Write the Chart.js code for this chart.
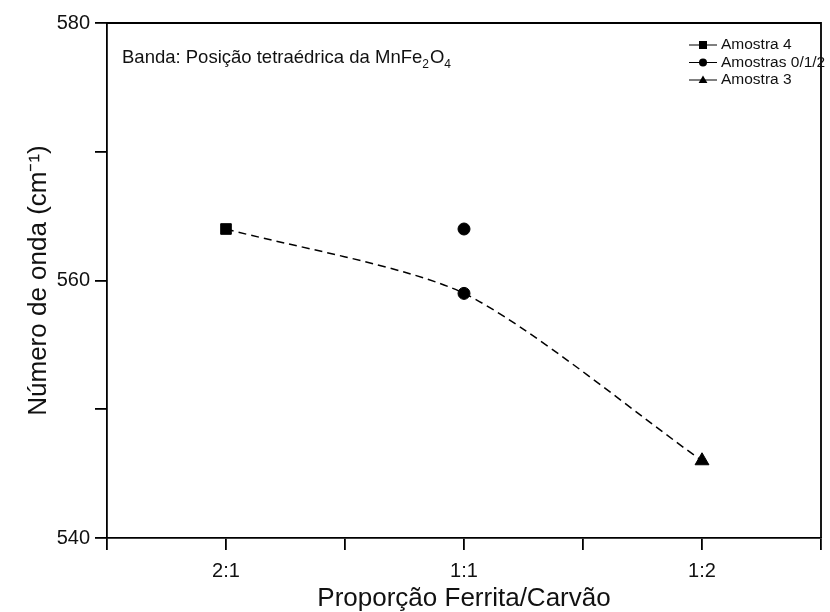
<!DOCTYPE html>
<html>
<head>
<meta charset="utf-8">
<script src="https://cdn.jsdelivr.net/npm/chart.js@4.4.1/dist/chart.umd.min.js"></script>
<style>
  html, body { margin: 0; padding: 0; background: #fff; overflow: hidden; }
  #wrap { width: 830px; height: 612px; }
</style>
</head>
<body>
<div id="wrap"><canvas id="chart"></canvas></div>
<script>
// categories on the x axis (positions 1, 2, 3)
const tickLabels = ['2:1', '1:1', '1:2'];

// series values
const amostra4X = [1];
const amostra4Y = [564];
const amostras012X = [2, 2];
const amostras012Y = [564, 559];
const amostra3X = [3];
const amostra3Y = [546];
const trendX = [1, 2, 3];
const trendY = [564, 559, 546];

const FONT = '"Liberation Sans", Arial, sans-serif';

const toPoints = (xs, ys) => xs.map((x, i) => ({ x: x, y: ys[i] }));

const legendItems = [
    { label: 'Amostra 4', style: 'rect' },
    { label: 'Amostras 0/1/2', style: 'circle' },
    { label: 'Amostra 3', style: 'triangle' }
];

function drawMarker(ctx, style, x, y, r) {
    ctx.beginPath();
    if (style === 'rect') {
        ctx.rect(x - r, y - r, 2 * r, 2 * r);
    } else if (style === 'circle') {
        ctx.arc(x, y, r, 0, Math.PI * 2);
    } else {
        ctx.moveTo(x, y - r * 1.15);
        ctx.lineTo(x + r * 1.1, y + r * 0.75);
        ctx.lineTo(x - r * 1.1, y + r * 0.75);
        ctx.closePath();
    }
    ctx.fill();
}

// frame, annotation text and legend
const decorations = {
    id: 'decorations',
    afterDraw(chart) {
        const { ctx, chartArea: a } = chart;
        ctx.save();
        ctx.strokeStyle = '#000';
        ctx.lineWidth = 1.8;
        ctx.beginPath();
        ctx.moveTo(a.left, a.top);
        ctx.lineTo(a.right, a.top);
        ctx.lineTo(a.right, a.bottom);
        ctx.stroke();

        // annotation with subscripts
        ctx.fillStyle = '#111';
        ctx.textBaseline = 'alphabetic';
        let x = a.left + 15;
        const y = a.top + 40;
        const parts = [
            ['Banda: Posição tetraédrica da MnFe', 0],
            ['2', 1], ['O', 0], ['4', 1]
        ];
        parts.forEach(([t, sub]) => {
            ctx.font = (sub ? '12px ' : '18.5px ') + FONT;
            ctx.fillText(t, x, y + (sub ? 5 : 0));
            x += ctx.measureText(t).width + (sub ? 1 : 0);
        });

        // legend
        ctx.font = '15.5px ' + FONT;
        ctx.textBaseline = 'middle';
        const lx = a.right - 132;
        legendItems.forEach((item, i) => {
            const ly = a.top + 22 + i * 17.5;
            ctx.strokeStyle = '#000';
            ctx.lineWidth = 1;
            ctx.beginPath();
            ctx.moveTo(lx, ly);
            ctx.lineTo(lx + 28, ly);
            ctx.stroke();
            ctx.fillStyle = '#000';
            drawMarker(ctx, item.style, lx + 14, ly, 4);
            ctx.fillStyle = '#111';
            ctx.fillText(item.label, lx + 32, ly);
        });
        ctx.restore();
    }
};

new Chart(document.getElementById('chart'), {
    type: 'scatter',
    data: {
        datasets: [
            {
                label: 'trend',
                data: toPoints(trendX, trendY),
                showLine: true,
                borderColor: '#000',
                borderWidth: 1.5,
                borderDash: [8, 5],
                tension: 0.25,
                pointRadius: 0
            },
            {
                label: 'Amostra 4',
                data: toPoints(amostra4X, amostra4Y),
                pointStyle: 'rect',
                pointRadius: 7.5,
                backgroundColor: '#000',
                borderColor: '#000'
            },
            {
                label: 'Amostras 0/1/2',
                data: toPoints(amostras012X, amostras012Y),
                pointStyle: 'circle',
                pointRadius: 6,
                backgroundColor: '#000',
                borderColor: '#000'
            },
            {
                label: 'Amostra 3',
                data: toPoints(amostra3X, amostra3Y),
                pointStyle: 'triangle',
                pointRadius: 8,
                backgroundColor: '#000',
                borderColor: '#000'
            }
        ]
    },
    options: {
        responsive: true,
        maintainAspectRatio: false,
        animation: false,
        layout: { padding: { top: 23, right: 1, left: 0, bottom: 0 } },
        plugins: {
            legend: { display: false },
            tooltip: { enabled: false }
        },
        scales: {
            x: {
                type: 'linear',
                min: 0.5,
                max: 3.5,
                afterFit: s => { s.height = 74; },
                ticks: {
                    stepSize: 0.5,
                    autoSkip: false,
                    maxRotation: 0,
                    padding: 9,
                    color: '#111',
                    font: { family: FONT, size: 20 },
                    callback: v => Number.isInteger(v) ? (tickLabels[v - 1] || '') : ''
                },
                grid: { drawOnChartArea: false, drawTicks: true, tickLength: 12, color: '#000', lineWidth: 1.8 },
                border: { display: true, color: '#000', width: 1.8 },
                title: {
                    display: true,
                    text: 'Proporção Ferrita/Carvão',
                    color: '#111',
                    font: { family: FONT, size: 26 },
                    padding: { top: 0, bottom: -2 }
                }
            },
            y: {
                min: 540,
                max: 580,
                afterFit: s => { s.width = 107; },
                ticks: {
                    stepSize: 10,
                    padding: 5,
                    color: '#111',
                    font: { family: FONT, size: 20 },
                    callback: v => v % 20 === 0 ? v : ''
                },
                grid: { drawOnChartArea: false, drawTicks: true, tickLength: 12, color: '#000', lineWidth: 1.8 },
                border: { display: true, color: '#000', width: 1.8 },
                title: {
                    display: true,
                    text: 'Número de onda (cm⁻¹)',
                    color: '#111',
                    font: { family: FONT, size: 26 },
                    padding: { top: 23, bottom: 0 }
                }
            }
        }
    },
    plugins: [decorations]
});
</script>
</body>
</html>
